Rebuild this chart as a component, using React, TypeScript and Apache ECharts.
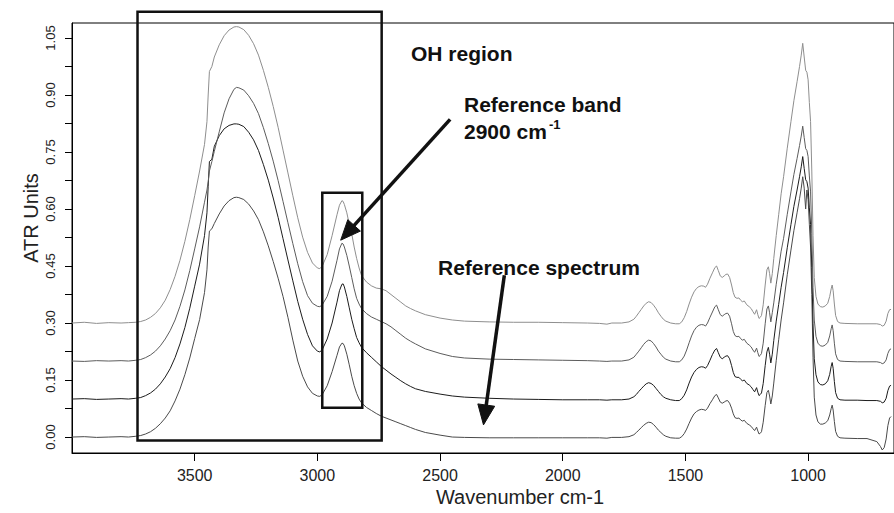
import React, { useEffect, useRef } from "react";
import * as echarts from "echarts";

// ---------- wavenumber grid (cm-1), split by spectral region ----------
const WN_OH = [4000, 3950, 3900, 3850, 3800, 3770, 3740, 3720, 3700, 3680, 3660, 3640, 3620, 3600, 3580, 3560, 3540, 3520, 3500, 3480, 3460, 3450, 3445, 3440, 3430, 3420, 3400, 3380, 3360, 3340, 3330, 3320, 3300, 3280, 3260, 3240, 3220, 3200, 3180, 3160, 3140, 3120, 3100, 3080, 3060, 3040, 3020, 3000, 2990];
const WN_CH = [2980, 2960, 2940, 2920, 2910, 2900, 2895, 2890, 2880, 2870, 2860, 2850, 2840, 2830, 2820, 2800, 2780, 2760, 2740, 2720, 2700, 2680, 2660, 2640, 2620, 2600, 2560, 2500, 2450, 2400, 2300, 2200, 2100, 2000, 1900, 1850, 1820, 1800];
const WN_AMIDE = [1760, 1730, 1710, 1700, 1690, 1680, 1670, 1660, 1650, 1640, 1630, 1620, 1610, 1600, 1590, 1580, 1560, 1540, 1525, 1515, 1505, 1495, 1485, 1475, 1465, 1455, 1445, 1435, 1425, 1418, 1410, 1400];
const WN_MID = [1390, 1380, 1373, 1366, 1358, 1350, 1342, 1335, 1328, 1320, 1312, 1305, 1298, 1290, 1282, 1275, 1268, 1260, 1250, 1240, 1232, 1225, 1218, 1210, 1205, 1200, 1195, 1190, 1183, 1175, 1168, 1162, 1157, 1152, 1146];
const WN_CO = [1140, 1130, 1120, 1110, 1100, 1085, 1070, 1058, 1045, 1035, 1028, 1022, 1016, 1010, 1005, 1000, 995, 990, 985, 980, 975, 968, 960, 950, 940, 930, 920, 912, 906, 902, 898, 893, 888, 880, 870, 850, 800, 760, 720, 705, 698, 690, 682, 675, 668, 662];

// ---------- spectrum offset +0.3 (top, light grey) ----------
const S4_OH = [0.300, 0.302, 0.299, 0.301, 0.300, 0.301, 0.302, 0.304, 0.308, 0.315, 0.325, 0.340, 0.360, 0.388, 0.423, 0.465, 0.515, 0.572, 0.635, 0.700, 0.770, 0.830, 0.900, 0.962, 0.975, 1.000, 1.032, 1.056, 1.071, 1.079, 1.080, 1.079, 1.072, 1.057, 1.035, 1.005, 0.965, 0.920, 0.870, 0.815, 0.755, 0.695, 0.635, 0.577, 0.526, 0.486, 0.458, 0.445, 0.443];
const S4_CH = [0.450, 0.480, 0.530, 0.585, 0.610, 0.622, 0.620, 0.612, 0.590, 0.560, 0.535, 0.500, 0.470, 0.445, 0.425, 0.408, 0.398, 0.392, 0.390, 0.385, 0.375, 0.365, 0.355, 0.345, 0.338, 0.332, 0.322, 0.313, 0.308, 0.305, 0.303, 0.302, 0.302, 0.301, 0.300, 0.299, 0.297, 0.300];
const S4_AMIDE = [0.300, 0.303, 0.310, 0.318, 0.327, 0.336, 0.345, 0.352, 0.356, 0.354, 0.347, 0.338, 0.327, 0.318, 0.310, 0.305, 0.300, 0.298, 0.298, 0.303, 0.314, 0.330, 0.350, 0.368, 0.382, 0.391, 0.396, 0.398, 0.397, 0.394, 0.402, 0.418];
const S4_MID = [0.432, 0.446, 0.450, 0.438, 0.424, 0.420, 0.424, 0.428, 0.429, 0.420, 0.400, 0.380, 0.368, 0.365, 0.366, 0.360, 0.356, 0.358, 0.348, 0.343, 0.338, 0.330, 0.323, 0.335, 0.322, 0.312, 0.315, 0.320, 0.348, 0.400, 0.440, 0.448, 0.430, 0.405, 0.430];
const S4_CO = [0.470, 0.530, 0.585, 0.640, 0.685, 0.760, 0.830, 0.885, 0.935, 0.975, 1.005, 1.036, 1.000, 0.965, 0.960, 0.940, 0.880, 0.830, 0.700, 0.530, 0.420, 0.370, 0.350, 0.343, 0.342, 0.345, 0.352, 0.370, 0.390, 0.400, 0.385, 0.350, 0.320, 0.304, 0.300, 0.299, 0.298, 0.298, 0.298, 0.296, 0.292, 0.294, 0.305, 0.325, 0.335, 0.336];

// ---------- spectrum offset +0.2 ----------
const S3_OH = [0.200, 0.199, 0.201, 0.200, 0.201, 0.200, 0.202, 0.204, 0.209, 0.216, 0.226, 0.240, 0.258, 0.280, 0.308, 0.344, 0.387, 0.438, 0.495, 0.553, 0.618, 0.650, 0.672, 0.700, 0.725, 0.752, 0.803, 0.853, 0.890, 0.915, 0.920, 0.919, 0.913, 0.898, 0.878, 0.851, 0.814, 0.772, 0.726, 0.675, 0.620, 0.564, 0.509, 0.456, 0.409, 0.372, 0.352, 0.344, 0.343];
const S3_CH = [0.348, 0.370, 0.410, 0.465, 0.495, 0.510, 0.508, 0.500, 0.478, 0.450, 0.420, 0.390, 0.365, 0.350, 0.338, 0.325, 0.316, 0.310, 0.304, 0.298, 0.290, 0.280, 0.270, 0.260, 0.252, 0.245, 0.232, 0.220, 0.212, 0.208, 0.205, 0.204, 0.203, 0.202, 0.201, 0.200, 0.199, 0.200];
const S3_AMIDE = [0.200, 0.203, 0.210, 0.218, 0.226, 0.235, 0.244, 0.251, 0.255, 0.253, 0.246, 0.237, 0.226, 0.218, 0.210, 0.205, 0.200, 0.198, 0.198, 0.203, 0.213, 0.229, 0.248, 0.266, 0.280, 0.289, 0.294, 0.296, 0.295, 0.292, 0.300, 0.315];
const S3_MID = [0.329, 0.343, 0.347, 0.335, 0.322, 0.318, 0.322, 0.325, 0.326, 0.318, 0.298, 0.278, 0.267, 0.264, 0.265, 0.259, 0.255, 0.257, 0.247, 0.242, 0.237, 0.229, 0.223, 0.234, 0.222, 0.212, 0.215, 0.220, 0.247, 0.298, 0.337, 0.345, 0.327, 0.303, 0.327];
const S3_CO = [0.353, 0.402, 0.445, 0.489, 0.523, 0.586, 0.645, 0.691, 0.733, 0.767, 0.792, 0.818, 0.788, 0.759, 0.754, 0.738, 0.687, 0.645, 0.536, 0.393, 0.308, 0.265, 0.247, 0.240, 0.239, 0.242, 0.249, 0.266, 0.285, 0.295, 0.280, 0.247, 0.219, 0.204, 0.200, 0.199, 0.198, 0.198, 0.198, 0.196, 0.193, 0.195, 0.203, 0.220, 0.230, 0.232];

// ---------- spectrum offset +0.1 (darkest) ----------
const S2_OH = [0.100, 0.101, 0.099, 0.100, 0.101, 0.100, 0.102, 0.104, 0.109, 0.116, 0.126, 0.140, 0.158, 0.180, 0.209, 0.245, 0.288, 0.339, 0.397, 0.455, 0.530, 0.590, 0.660, 0.725, 0.731, 0.765, 0.793, 0.811, 0.820, 0.824, 0.824, 0.823, 0.817, 0.802, 0.782, 0.754, 0.717, 0.676, 0.629, 0.578, 0.522, 0.466, 0.411, 0.357, 0.310, 0.270, 0.240, 0.226, 0.224];
const S2_CH = [0.230, 0.258, 0.300, 0.355, 0.385, 0.402, 0.403, 0.395, 0.370, 0.340, 0.310, 0.285, 0.262, 0.248, 0.236, 0.222, 0.210, 0.198, 0.186, 0.176, 0.166, 0.157, 0.148, 0.140, 0.133, 0.127, 0.120, 0.113, 0.108, 0.105, 0.102, 0.100, 0.099, 0.098, 0.098, 0.098, 0.097, 0.098];
const S2_AMIDE = [0.098, 0.100, 0.106, 0.112, 0.120, 0.127, 0.134, 0.140, 0.143, 0.141, 0.136, 0.128, 0.120, 0.112, 0.106, 0.102, 0.098, 0.096, 0.096, 0.101, 0.110, 0.124, 0.142, 0.158, 0.170, 0.178, 0.183, 0.185, 0.184, 0.181, 0.188, 0.202];
const S2_MID = [0.217, 0.229, 0.233, 0.222, 0.210, 0.206, 0.210, 0.213, 0.214, 0.206, 0.188, 0.170, 0.159, 0.157, 0.157, 0.152, 0.148, 0.150, 0.141, 0.137, 0.132, 0.125, 0.119, 0.130, 0.118, 0.109, 0.112, 0.116, 0.141, 0.188, 0.224, 0.236, 0.218, 0.195, 0.218];
const S2_CO = [0.254, 0.305, 0.349, 0.394, 0.433, 0.498, 0.559, 0.607, 0.650, 0.685, 0.711, 0.738, 0.707, 0.677, 0.672, 0.655, 0.603, 0.559, 0.446, 0.298, 0.206, 0.164, 0.145, 0.138, 0.137, 0.140, 0.148, 0.165, 0.186, 0.196, 0.181, 0.146, 0.117, 0.102, 0.098, 0.097, 0.097, 0.096, 0.096, 0.094, 0.090, 0.092, 0.102, 0.122, 0.134, 0.136];

// ---------- reference spectrum (offset 0, bottom) ----------
const S1_OH = [0.000, 0.001, -0.001, 0.000, 0.001, 0.000, 0.002, 0.004, 0.008, 0.014, 0.023, 0.035, 0.050, 0.069, 0.095, 0.126, 0.164, 0.208, 0.259, 0.309, 0.380, 0.440, 0.500, 0.542, 0.548, 0.562, 0.587, 0.608, 0.622, 0.630, 0.631, 0.630, 0.625, 0.613, 0.595, 0.572, 0.540, 0.503, 0.462, 0.418, 0.370, 0.315, 0.255, 0.200, 0.160, 0.132, 0.115, 0.108, 0.107];
const S1_CH = [0.112, 0.135, 0.172, 0.215, 0.237, 0.247, 0.246, 0.240, 0.218, 0.190, 0.160, 0.135, 0.115, 0.100, 0.090, 0.078, 0.070, 0.062, 0.055, 0.050, 0.045, 0.040, 0.035, 0.030, 0.025, 0.020, 0.012, 0.005, 0.000, -0.001, -0.002, -0.002, -0.002, -0.002, -0.002, -0.002, -0.003, -0.001];
const S1_AMIDE = [-0.001, 0.001, 0.006, 0.012, 0.018, 0.025, 0.031, 0.036, 0.039, 0.038, 0.033, 0.026, 0.018, 0.012, 0.006, 0.002, -0.002, -0.003, -0.003, 0.001, 0.009, 0.021, 0.036, 0.050, 0.061, 0.067, 0.071, 0.073, 0.072, 0.070, 0.076, 0.088];
const S1_MID = [0.098, 0.109, 0.112, 0.103, 0.092, 0.089, 0.092, 0.095, 0.096, 0.089, 0.076, 0.061, 0.051, 0.049, 0.050, 0.045, 0.042, 0.044, 0.036, 0.032, 0.028, 0.022, 0.017, 0.026, 0.016, 0.008, 0.010, 0.014, 0.039, 0.083, 0.117, 0.123, 0.108, 0.087, 0.108];
const S1_CO = [0.142, 0.201, 0.256, 0.308, 0.353, 0.427, 0.492, 0.543, 0.590, 0.627, 0.655, 0.685, 0.655, 0.600, 0.650, 0.625, 0.560, 0.500, 0.375, 0.210, 0.105, 0.058, 0.040, 0.034, 0.034, 0.037, 0.043, 0.058, 0.075, 0.084, 0.071, 0.041, 0.015, 0.002, -0.002, -0.003, -0.004, -0.004, -0.012, -0.025, -0.034, -0.028, -0.005, 0.030, 0.050, 0.054];

// ---------- axis ticks ----------
const X_TICKS = [3500, 3000, 2500, 2000, 1500, 1000];
const Y_LABELS = [0, 0.15, 0.3, 0.45, 0.6, 0.75, 0.9, 1.05];
const Y_TICKS = [0, 0.075, 0.15, 0.225, 0.3, 0.375, 0.45, 0.525, 0.6, 0.675, 0.75, 0.825, 0.9, 0.975, 1.05];

// ---------- annotations (data coordinates) ----------
const OH_BOX = [3733, 1.119, 2738, -0.009];
const CH_BOX = [2980, 0.643, 2817, 0.077];
const ARROW_BAND = [2459, 0.836, 2905, 0.518];
const ARROW_REF = [2238, 0.426, 2323, 0.032];

const WN = [...WN_OH, ...WN_CH, ...WN_AMIDE, ...WN_MID, ...WN_CO];
const SPECTRA = [
  { name: "Reference", color: "#4a4a4a", values: [...S1_OH, ...S1_CH, ...S1_AMIDE, ...S1_MID, ...S1_CO] },
  { name: "Sample 2", color: "#1c1c1c", values: [...S2_OH, ...S2_CH, ...S2_AMIDE, ...S2_MID, ...S2_CO] },
  { name: "Sample 3", color: "#5c5c5c", values: [...S3_OH, ...S3_CH, ...S3_AMIDE, ...S3_MID, ...S3_CO] },
  { name: "Sample 4", color: "#8e8e8e", values: [...S4_OH, ...S4_CH, ...S4_AMIDE, ...S4_MID, ...S4_CO] },
];

const FONT = "'Liberation Sans', Arial, Helvetica, sans-serif";

export default function App() {
  const ref = useRef<HTMLDivElement>(null);
  useEffect(() => {
    if (!ref.current) return;
    const chart = echarts.init(ref.current, undefined, { renderer: "svg" });
    chart.setOption({
      animation: false,
      backgroundColor: "#ffffff",
      grid: { left: 72, right: -3, top: 23, bottom: 60, show: true, borderColor: "#000", borderWidth: 1, backgroundColor: "transparent" },
      xAxis: {
        type: "value",
        inverse: true,
        min: 650,
        max: 4000,
        axisLine: { show: true, onZero: false, lineStyle: { color: "#000", width: 1 } },
        axisTick: { show: true, customValues: X_TICKS, length: 8, lineStyle: { color: "#000" } },
        axisLabel: { customValues: X_TICKS, fontSize: 16, color: "#222", margin: 14, fontFamily: FONT, formatter: (v: number) => String(v) },
        splitLine: { show: false },
      },
      yAxis: {
        type: "value",
        min: -0.042,
        max: 1.0895,
        axisLine: { show: true, onZero: false, lineStyle: { color: "#000", width: 1 } },
        axisTick: { show: true, customValues: Y_TICKS, length: 7, lineStyle: { color: "#000" } },
        axisLabel: {
          customValues: Y_LABELS,
          rotate: 90,
          fontSize: 13,
          color: "#222",
          margin: 15,
          fontFamily: FONT,
          formatter: (v: number) => v.toFixed(2),
        },
        splitLine: { show: false },
      },
      series: SPECTRA.map((s) => ({
        type: "line",
        name: s.name,
        showSymbol: false,
        symbol: "none",
        smooth: false,
        lineStyle: { color: s.color, width: 1 },
        itemStyle: { color: s.color },
        data: WN.map((w, i) => [w, s.values[i]]),
      })),
    });

    const px = (x: number, y: number) => chart.convertToPixel({ gridIndex: 0 }, [x, y]) as number[];
    const box = (b: number[]) => {
      const a = px(b[0], b[1]);
      const c = px(b[2], b[3]);
      return {
        type: "rect",
        shape: { x: Math.min(a[0], c[0]), y: Math.min(a[1], c[1]), width: Math.abs(c[0] - a[0]), height: Math.abs(c[1] - a[1]) },
        style: { fill: "none", stroke: "#111", lineWidth: 2.5 },
        z: 10,
      };
    };
    const arrow = (a: number[]) => {
      const s = px(a[0], a[1]);
      const t = px(a[2], a[3]);
      const dx = t[0] - s[0];
      const dy = t[1] - s[1];
      const len = Math.sqrt(dx * dx + dy * dy);
      const ux = dx / len;
      const uy = dy / len;
      const head = 20;
      const half = 8.5;
      const bx = t[0] - ux * head;
      const by = t[1] - uy * head;
      return [
        { type: "line", shape: { x1: s[0], y1: s[1], x2: bx + ux * 2, y2: by + uy * 2 }, style: { stroke: "#111", lineWidth: 3.5 }, z: 10 },
        {
          type: "polygon",
          shape: { points: [[t[0], t[1]], [bx - uy * half, by + ux * half], [bx + uy * half, by - ux * half]] },
          style: { fill: "#111", stroke: "#111", lineWidth: 1 },
          z: 10,
        },
      ];
    };
    const txt = (x: number, y: number, text: string, size: number, bold: boolean, extra: any = {}) => ({
      type: "text",
      x,
      y,
      z: 11,
      style: { text, fontSize: size, fontWeight: bold ? "bold" : "normal", fontFamily: FONT, fill: "#111", align: "left", verticalAlign: "middle", ...extra },
    });

    chart.setOption({
      graphic: [
        box(OH_BOX),
        box(CH_BOX),
        ...arrow(ARROW_BAND),
        ...arrow(ARROW_REF),
        txt(411, 53, "OH region", 21, true),
        txt(464, 104, "Reference band", 21, true),
        txt(464, 131, "2900 cm", 21, true),
        txt(549, 124, "-1", 13, true),
        txt(438, 267, "Reference spectrum", 21, true),
        txt(520, 497, "Wavenumber cm-1", 20, false, { align: "center", fill: "#222" }),
        { ...txt(31, 218, "ATR Units", 20, false, { align: "center", fill: "#222" }), rotation: Math.PI / 2 },
      ],
    });
    return () => chart.dispose();
  }, []);
  return <div ref={ref} style={{ position: "fixed", left: 0, top: 0, width: 894, height: 513, background: "#fff" }} />;
}
